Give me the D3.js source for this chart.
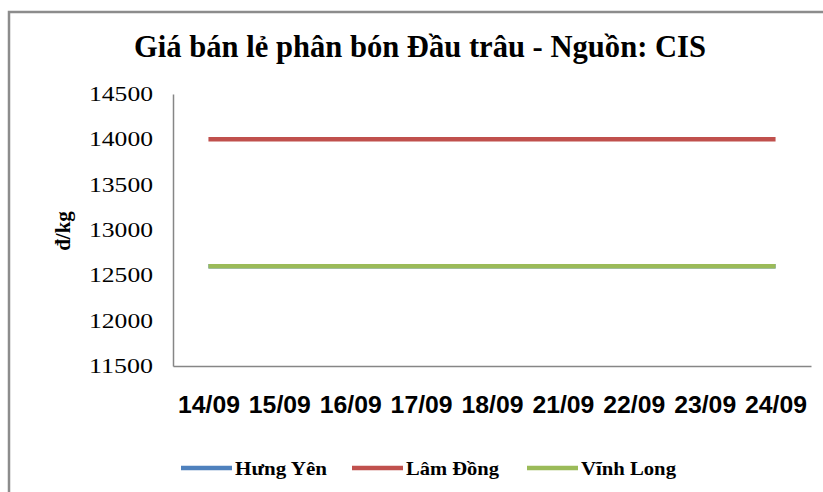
<!DOCTYPE html>
<html><head><meta charset="utf-8">
<script src="https://cdn.jsdelivr.net/npm/d3@7"></script>
<style>body{margin:0;background:#fff}svg{display:block}</style>
</head><body>
<script>
const categories = ["14/09","15/09","16/09","17/09","18/09","21/09","22/09","23/09","24/09"];
const hungYen  = [12600,12600,12600,12600,12600,12600,12600,12600,12600];
const lamDong  = [14000,14000,14000,14000,14000,14000,14000,14000,14000];
const vinhLong = [12600,12600,12600,12600,12600,12600,12600,12600,12600];
const seriesNames = ["Hưng Yên","Lâm Đồng","Vĩnh Long"];
const yTicks = [11500,12000,12500,13000,13500,14000,14500];
const titleText = "Giá bán lẻ phân bón Đầu trâu  - Nguồn: CIS";
const yLabel = "đ/kg";

const series = [
  {name: seriesNames[0], values: hungYen,  color: "#4F81BD"},
  {name: seriesNames[1], values: lamDong,  color: "#C0504D"},
  {name: seriesNames[2], values: vinhLong, color: "#9BBB59"}
];

const W = 823, H = 492;
const svg = d3.select("body").append("svg").attr("width", W).attr("height", H);

// outer frame (top and left visible)
svg.append("path").attr("d", "M9,492 L9,12 L823,12")
  .attr("fill","none").attr("stroke","#8c8c8c").attr("stroke-width",2.5);

const pLeft = 173, pRight = 811, pTop = 94, pBottom = 366;
const x = d3.scalePoint().domain(categories).range([pLeft, pRight]).padding(0.5);
const y = d3.scaleLinear().domain([11500,14500]).range([pBottom, pTop]);

// title
svg.append("text").attr("x", 134).attr("y", 57)
  .attr("font-family","'Liberation Serif','Times New Roman',serif")
  .attr("font-weight","bold").attr("font-size",31)
  .attr("textLength",572).attr("lengthAdjust","spacingAndGlyphs")
  .text(titleText);

// y axis
const yAxis = d3.axisLeft(y).tickValues(yTicks).tickSize(0).tickPadding(20).tickFormat(d3.format("d"));
const gy = svg.append("g").attr("transform",`translate(${pLeft},0)`).call(yAxis);
gy.select(".domain").attr("stroke","#868686").attr("stroke-width",1.5);
gy.selectAll("text")
  .attr("font-family","'Liberation Serif','Times New Roman',serif")
  .attr("font-size",20).attr("fill","#000")
  .attr("textLength",64).attr("lengthAdjust","spacingAndGlyphs");

// x axis
const xAxis = d3.axisBottom(x).tickSize(0).tickPadding(30);
const gx = svg.append("g").attr("transform",`translate(0,${pBottom})`).call(xAxis);
gx.select(".domain").attr("stroke","#868686").attr("stroke-width",1.5);
gx.selectAll("text")
  .attr("font-family","'Liberation Sans',Arial,sans-serif")
  .attr("font-weight","bold").attr("font-size",24).attr("fill","#000")
  .attr("textLength",62).attr("lengthAdjust","spacingAndGlyphs");

// y label
svg.append("text").attr("transform","translate(70,231) rotate(-90)")
  .attr("text-anchor","middle")
  .attr("font-family","'Liberation Serif','Times New Roman',serif")
  .attr("font-weight","bold").attr("font-size",21)
  .text(yLabel);

// lines
const line = d3.line().x((d,i)=>x(categories[i])).y(d=>y(d));
series.forEach(s => {
  svg.append("path").datum(s.values).attr("d", line)
    .attr("fill","none").attr("stroke", s.color).attr("stroke-width",4.5);
});

// legend
const legendX = [181, 352, 527];
const legendTextW = [92, 93, 95];
series.forEach((s,i) => {
  const g = svg.append("g").attr("transform",`translate(${legendX[i]},468)`);
  g.append("line").attr("x1",0).attr("x2",51).attr("y1",0).attr("y2",0)
    .attr("stroke", s.color).attr("stroke-width",4.5);
  g.append("text").attr("x",54).attr("y",7)
    .attr("font-family","'Liberation Serif','Times New Roman',serif")
    .attr("font-weight","bold").attr("font-size",19)
    .attr("textLength",legendTextW[i]).attr("lengthAdjust","spacingAndGlyphs")
    .text(s.name);
});
</script>
</body></html>
